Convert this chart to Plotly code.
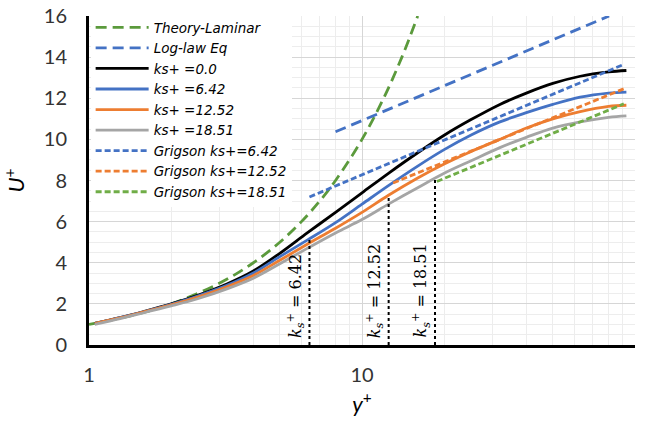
import numpy as np
import plotly.graph_objects as go

# ---------------- data ----------------
yplus = [1.05, 1.3, 1.6, 2, 2.5, 3.2, 4, 5, 6.3, 8, 10, 12.5, 16, 20, 25, 32, 40, 50, 63, 80, 93]
u_ks0 = [1.05, 1.33, 1.64, 2.0, 2.42, 2.97, 3.6, 4.46, 5.45, 6.45, 7.4, 8.35, 9.35, 10.2, 10.95, 11.7, 12.25, 12.72, 13.07, 13.28, 13.35]
u_ks642 = [1.05, 1.33, 1.63, 1.98, 2.38, 2.9, 3.5, 4.3, 5.1, 5.95, 6.85, 7.75, 8.7, 9.5, 10.2, 10.85, 11.3, 11.7, 12.05, 12.25, 12.3]
u_ks1252 = [1.05, 1.32, 1.62, 1.95, 2.33, 2.83, 3.38, 4.12, 4.9, 5.68, 6.45, 7.28, 8.12, 8.8, 9.4, 10.0, 10.55, 11.0, 11.35, 11.6, 11.66]
u_ks1851 = [1.0, 1.28, 1.58, 1.9, 2.25, 2.73, 3.25, 3.95, 4.7, 5.45, 6.1, 6.85, 7.65, 8.35, 8.95, 9.6, 10.1, 10.55, 10.85, 11.07, 11.14]

lam_y = [1, 1.5, 2, 3, 4, 5, 6, 7, 8, 10, 12, 14, 16]
lam_u = [1, 1.5, 2, 3, 4, 5, 6, 7, 8, 10, 12, 14, 16]

loglaw_y = [8, 80.4]
loglaw_u = [10.37, 16.0]

grig642_y = [6.42, 91]
grig642_u = [7.2, 13.65]
grig1252_y = [13.0, 91]
grig1252_u = [7.88, 12.46]
grig1851_y = [18.8, 91]
grig1851_u = [7.95, 11.73]

ks_values = [6.42, 12.52, 18.51]
ks_top_u = [5.16, 7.28, 8.08]
ks_labels = ["6.42", "12.52", "18.51"]

x_ticks = [1, 10, 100]
y_ticks = [0, 2, 4, 6, 8, 10, 12, 14, 16]

# ---------------- styles ----------------
GREEN_D = "#5B9A3C"
GREEN = "#70AD47"
BLUE = "#4472C4"
ORANGE = "#ED7D31"
GRAY = "#A5A5A5"

fig = go.Figure()

fig.add_trace(go.Scatter(x=lam_y, y=lam_u, mode="lines", name="Theory-Laminar",
                         line=dict(color=GREEN_D, width=2.8, dash="11px,6px", shape="spline")))
fig.add_trace(go.Scatter(x=loglaw_y, y=loglaw_u, mode="lines", name="Log-law Eq",
                         line=dict(color=BLUE, width=2.8, dash="11px,6px")))
for name, vals, col in [("ks+ =0.0", u_ks0, "black"), ("ks+ =6.42", u_ks642, BLUE),
                        ("ks+ =12.52", u_ks1252, ORANGE), ("ks+ =18.51", u_ks1851, GRAY)]:
    fig.add_trace(go.Scatter(x=yplus, y=vals, mode="lines", name=name,
                             line=dict(color=col, width=2.8, shape="spline", smoothing=1.0)))
for name, xs, us, col in [("Grigson ks+=6.42", grig642_y, grig642_u, BLUE),
                          ("Grigson ks+=12.52", grig1252_y, grig1252_u, ORANGE),
                          ("Grigson ks+=18.51", grig1851_y, grig1851_u, GREEN)]:
    fig.add_trace(go.Scatter(x=xs, y=us, mode="lines", name=name,
                             line=dict(color=col, width=2.8, dash="6px,3px")))

for ks, top, lab in zip(ks_values, ks_top_u, ks_labels):
    fig.add_trace(go.Scatter(x=[ks, ks], y=[0, top], mode="lines", showlegend=False,
                             line=dict(color="black", width=2, dash="dot")))
    fig.add_annotation(x=np.log10(ks), y=0, xref="x", yref="y",
                       text="<i>k</i><sub><i>s</i></sub><sup>+</sup> = " + lab,
                       textangle=-90, showarrow=False, xanchor="right", yanchor="bottom",
                       xshift=-1, yshift=5,
                       font=dict(family="DejaVu Serif", size=16, color="black"))

fig.update_layout(
    width=652, height=426,
    margin=dict(l=89, r=17, t=16, b=81),
    paper_bgcolor="white", plot_bgcolor="white",
    showlegend=True,
    legend=dict(x=0.003, y=1.012, xanchor="left", yanchor="top",
                bgcolor="white", borderwidth=0, tracegroupgap=0, itemwidth=53,
                font=dict(family="DejaVu Sans", size=13.5, color="black", style="italic")),
    font=dict(family="Lato", color="#333333"),
)

fig.update_xaxes(type="log", range=[0, 2], tickvals=x_ticks, ticktext=[str(v) for v in x_ticks],
                 automargin=False,
                 showgrid=True, gridcolor="#D6D6D6", gridwidth=1,
                 minor=dict(showgrid=True, gridcolor="#EDEDED", dtick="D1"),
                 showline=True, linecolor="black", linewidth=3, zeroline=False,
                 ticks="", ticklabelstandoff=10,
                 tickfont=dict(family="Lato", size=20, color="#333333"),
                 title=dict(text="<i>y</i><sup>+</sup>", standoff=12,
                            font=dict(family="Lato", size=22, color="black")))
fig.update_yaxes(range=[0, 16], tickvals=y_ticks, automargin=False,
                 showgrid=True, gridcolor="#D6D6D6", gridwidth=1,
                 minor=dict(showgrid=True, gridcolor="#EDEDED", dtick=0.5),
                 showline=True, linecolor="black", linewidth=3, zeroline=False,
                 ticks="", ticklabelstandoff=15,
                 tickfont=dict(family="Lato", size=20, color="#333333"),
                 title=dict(text="<i>U</i><sup>+</sup>", standoff=18,
                            font=dict(family="Lato", size=22, color="black")))

fig.write_html("out.html", post_script="document.body.style.margin='0';",
               config={"displayModeBar": False})
